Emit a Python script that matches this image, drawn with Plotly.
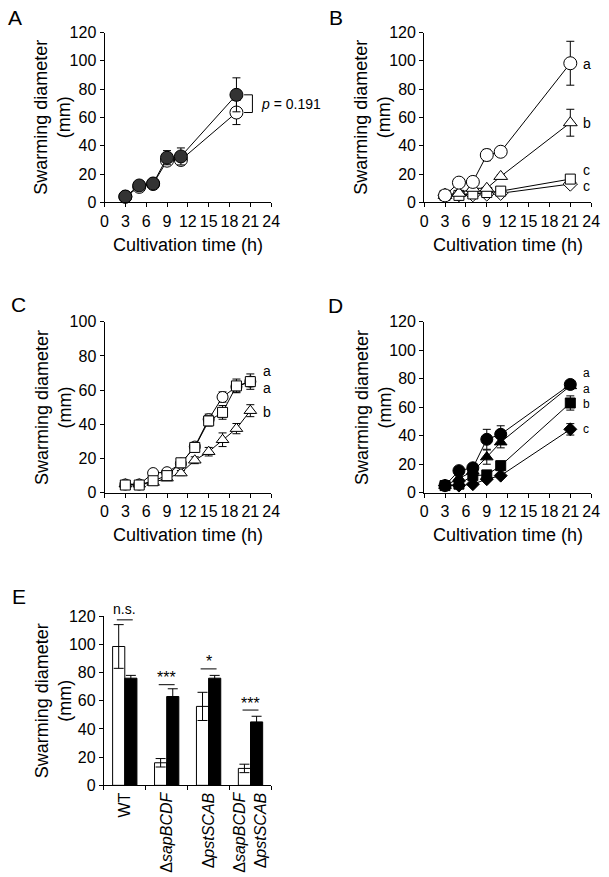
import plotly.graph_objects as go

W, H = 609, 877
FONT = "Liberation Sans, Arial, sans-serif"

# ---------------- data ----------------
# Panel A
a_time = [3, 5, 7, 9, 11, 19]
a_open = [4, 11, 13, 29.5, 30, 63.5]
a_open_err = [1, 1, 1, 2, 2, 8.5]
a_filled = [4.2, 12, 13.4, 31.6, 32.5, 76]
a_filled_err = [1, 1, 1, 5, 6, 12]

# Panel B
b_time = [3, 5, 7, 9, 11, 21]
b_circle = [5, 14, 14.5, 33.5, 35.8, 98.3]
b_circle_err = [1, 1, 1, 4, 1, 15.5]
b_triangle = [5, 6.5, 10, 10, 18.4, 56.3]
b_triangle_err = [1, 1, 1, 1, 1, 9.5]
b_square = [5, 5, 6, 7, 8, 16.5]
b_square_err = [1, 1, 1, 1, 1, 2]
b_diamond = [5, 5.5, 5.5, 6, 6.5, 13]
b_diamond_err = [1, 1, 1, 1, 1, 2]
b_letters = ["a", "b", "c", "c"]
b_letter_y = [98, 56, 23, 11.5]

# Panel C
c_time = [3, 5, 7, 9, 11, 13, 15, 17, 19, 21]
c_circle = [4.8, 4.8, 11.5, 12, 17, 27, 43, 56, 62, 65]
c_circle_err = [1, 1, 1, 1.5, 1.5, 2, 3, 3, 3, 3]
c_square = [4.5, 4.5, 7, 10, 17.5, 26.5, 42, 47, 62.5, 65]
c_square_err = [1, 1, 1, 1.5, 2, 2, 3, 4, 4, 4.5]
c_triangle = [5, 5, 6, 8.5, 11.5, 19, 24, 31, 37.5, 48]
c_triangle_err = [1, 1, 1, 1, 1.5, 2, 2.5, 4, 3, 3.5]
c_letters = ["a", "a", "b"]
c_letter_y = [71, 61.5, 47]

# Panel D
d_time = [3, 5, 7, 9, 11, 21]
d_circle = [5, 15.5, 17.5, 37.5, 41, 76]
d_circle_err = [1, 1.5, 2, 7, 6, 2]
d_triangle = [5, 10, 15, 25, 35.5, 75]
d_triangle_err = [1, 1, 2, 5, 4, 2]
d_square = [5, 6, 12, 12.5, 19, 63]
d_square_err = [1, 1, 1.5, 2, 3, 5]
d_diamond = [5, 5, 6, 9.5, 12, 44.5]
d_diamond_err = [1, 1, 1, 1.5, 1.5, 4]
d_letters = ["a", "a", "b", "c"]
d_letter_y = [84, 72.5, 62.5, 44.5]

# Panel E
e_strains = ["WT", "Δ<i>sapBCDF</i>", "Δ<i>pstSCAB</i>",
             "Δ<i>sapBCDF</i><br>Δ<i>pstSCAB</i>"]
e_open = [98.5, 16, 56, 12]
e_open_err = [15.5, 3, 10, 3]
e_filled = [76, 63, 76, 45]
e_filled_err = [2, 5.5, 2, 4]
e_sig = ["n.s.", "***", "*", "***"]
e_sig_y = [117.4, 71.4, 82.6, 53.4]

time_ticks = [0, 3, 6, 9, 12, 15, 18, 21, 24]


# ---------------- helpers ----------------
def xd(p0, p1):
    return [p0 / W, p1 / W]


def yd(top, bottom):
    return [1 - bottom / H, 1 - top / H]


def line_trace(x, y, err, symbol, fill, xa, ya, size=12):
    return go.Scatter(
        x=x, y=y, xaxis=xa, yaxis=ya, mode="lines+markers",
        line=dict(color="black", width=1),
        marker=dict(symbol=symbol, size=size, color=fill,
                    line=dict(color="black", width=1)),
        error_y=dict(type="data", array=err, color="black", thickness=1, width=4),
        showlegend=False, cliponaxis=False,
    )


fig = go.Figure()

# Panel A
fig.add_trace(line_trace(a_time, a_open, a_open_err, "circle", "white", "x", "y", 13))
fig.add_trace(line_trace(a_time, a_filled, a_filled_err, "circle", "#333333", "x", "y", 13))

# Panel B
fig.add_trace(line_trace(b_time, b_diamond, b_diamond_err, "diamond", "white", "x2", "y2", 11))
fig.add_trace(line_trace(b_time, b_square, b_square_err, "square", "white", "x2", "y2", 10))
fig.add_trace(line_trace(b_time, b_triangle, b_triangle_err, "triangle-up", "white", "x2", "y2", 12))
fig.add_trace(line_trace(b_time, b_circle, b_circle_err, "circle", "white", "x2", "y2", 13))

# Panel C
fig.add_trace(line_trace(c_time, c_triangle, c_triangle_err, "triangle-up", "white", "x3", "y3", 11))
fig.add_trace(line_trace(c_time, c_circle, c_circle_err, "circle", "white", "x3", "y3", 11))
fig.add_trace(line_trace(c_time, c_square, c_square_err, "square", "white", "x3", "y3", 10))

# Panel D
fig.add_trace(line_trace(d_time, d_diamond, d_diamond_err, "diamond", "black", "x4", "y4", 10))
fig.add_trace(line_trace(d_time, d_square, d_square_err, "square", "black", "x4", "y4", 10))
fig.add_trace(line_trace(d_time, d_triangle, d_triangle_err, "triangle-up", "black", "x4", "y4", 11))
fig.add_trace(line_trace(d_time, d_circle, d_circle_err, "circle", "black", "x4", "y4", 12))

# Panel E
fig.add_trace(go.Bar(
    x=e_strains, y=e_open, xaxis="x5", yaxis="y5", offsetgroup="o",
    marker=dict(color="white", line=dict(color="black", width=1)),
    error_y=dict(type="data", array=e_open_err, color="black", thickness=1, width=5),
    showlegend=False))
fig.add_trace(go.Bar(
    x=e_strains, y=e_filled, xaxis="x5", yaxis="y5", offsetgroup="f",
    marker=dict(color="black", line=dict(color="black", width=1)),
    error_y=dict(type="data", array=e_filled_err, color="black", thickness=1, width=5),
    showlegend=False))

axis_common = dict(showline=True, linecolor="black", linewidth=1, ticks="outside",
                   ticklen=4, tickcolor="black", showgrid=False, zeroline=False,
                   tickfont=dict(family=FONT, size=16, color="black"), fixedrange=True)

def time_axis(dom, anchor):
    return dict(axis_common, domain=dom, anchor=anchor, range=[0, 24],
                tickvals=time_ticks, ticktext=[str(t) for t in time_ticks])

def val_axis(dom, anchor, top, step):
    return dict(axis_common, domain=dom, anchor=anchor, range=[0, top],
                tickvals=list(range(0, top + 1, step)))

fig.update_layout(
    width=W, height=H, margin=dict(l=0, r=0, t=0, b=0),
    paper_bgcolor="white", plot_bgcolor="white",
    font=dict(family=FONT, color="black"),
    barmode="group", bargap=0.42, bargroupgap=0,
    xaxis=time_axis(xd(102.7, 273), "y"),
    yaxis=val_axis(yd(25, 198.3), "x", 120, 20),
    xaxis2=time_axis(xd(429.3, 600), "y2"),
    yaxis2=val_axis(yd(25, 198.3), "x2", 120, 20),
    xaxis3=time_axis(xd(102.7, 273), "y3"),
    yaxis3=val_axis(yd(320, 494.3), "x3", 100, 20),
    xaxis4=time_axis(xd(429.3, 600), "y4"),
    yaxis4=val_axis(yd(320, 494.3), "x4", 120, 20),
    xaxis5=dict(axis_common, domain=xd(102, 273.3), anchor="y5", type="category",
                tickson="boundaries", range=[-0.5, 3.5], tickangle=-90,
                categoryorder="array", categoryarray=e_strains,
                tickfont=dict(family=FONT, size=16, color="black")),
    yaxis5=val_axis(yd(620.2, 792.7), "x5", 120, 20),
)

ann = []
def text(x, y, s, size, xref="paper", yref="paper", xanchor="center", yanchor="middle", angle=0):
    ann.append(dict(x=x, y=y, xref=xref, yref=yref, text=s, showarrow=False,
                    xanchor=xanchor, yanchor=yanchor, textangle=angle,
                    font=dict(family=FONT, size=size, color="black")))

# panel letters
for letter, px, py in [("A", 2, 10), ("B", 330, 10), ("C", 5, 302), ("D", 329, 303), ("E", 6, 600)]:
    text(px / W, 1 - py / H, letter, 21, xanchor="left")

# axis titles
YT = "Swarming diameter<br>(mm)"
for cx, cy in [(50, 111), (377, 111), (50, 407), (377, 407), (50, 706)]:
    text(cx / W, 1 - cy / H, YT, 18, angle=-90)
for cx, cy in [(188, 242), (515, 242), (188, 537), (515, 537)]:
    text(cx / W, 1 - cy / H, "Cultivation time (h)", 18)

# group letters
for s, y in zip(b_letters, b_letter_y):
    text(22.5, y, s, 14, xref="x2", yref="y2", xanchor="left")
for s, y in zip(c_letters, c_letter_y):
    text(22.6, y, s, 14, xref="x3", yref="y3", xanchor="left")
for s, y in zip(d_letters, d_letter_y):
    text(22.6, y, s, 12, xref="x4", yref="y4", xanchor="left")

# p-value in A
text(22.2, 69.5, "<i>p</i> = 0.191", 14, xref="x", yref="y", xanchor="left")

shapes = [dict(type="path", xref="x", yref="y",
               path=f"M 20.1 {a_filled[-1]} L 21.3 {a_filled[-1]} L 21.3 {a_open[-1]} L 20.1 {a_open[-1]}",
               line=dict(color="black", width=1))]

# significance in E
for i, (s, y) in enumerate(zip(e_sig, e_sig_y)):
    shapes.append(dict(type="line", xref="x5", yref="y5", x0=i - 0.19, x1=i + 0.19,
                       y0=y, y1=y, line=dict(color="black", width=1)))
    text(i, y + (0.5 if s == "n.s." else -2.5), s, 14 if s == "n.s." else 16,
         xref="x5", yref="y5", yanchor="bottom")

fig.update_layout(annotations=ann, shapes=shapes)
fig.write_html("out.html")
